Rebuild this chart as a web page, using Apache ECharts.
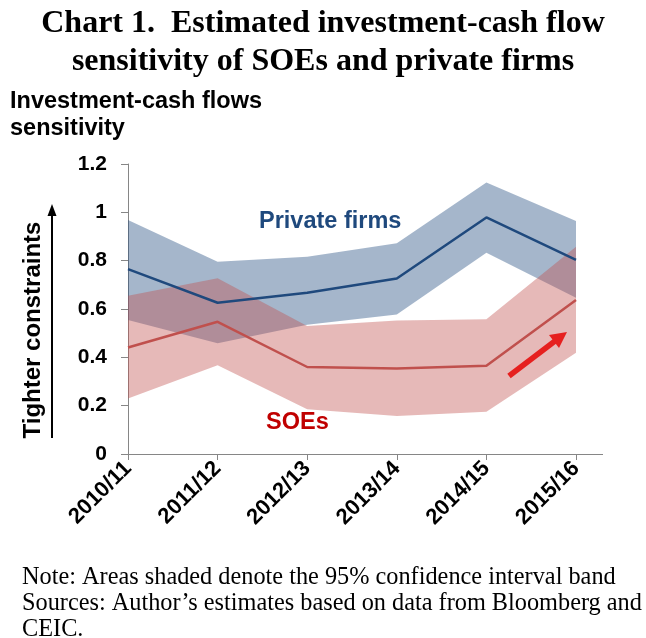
<!DOCTYPE html>
<html>
<head>
<meta charset="utf-8">
<script src="https://cdn.jsdelivr.net/npm/echarts@6/dist/echarts.min.js"></script>
<style>html,body{margin:0;padding:0;background:#fff}#c{width:646px;height:638px}</style>
</head>
<body>
<div id="c"></div>
<script>
var categories = ['2010/11','2011/12','2012/13','2013/14','2014/15','2015/16'];
var privateFirms = [0.765, 0.626, 0.667, 0.726, 0.979, 0.803];
var privateUpper = [0.968, 0.796, 0.816, 0.872, 1.123, 0.964];
var privateLower = [0.554, 0.458, 0.535, 0.577, 0.833, 0.647];
var soes = [0.441, 0.547, 0.360, 0.354, 0.365, 0.637];
var soeUpper = [0.655, 0.727, 0.530, 0.552, 0.558, 0.858];
var soeLower = [0.230, 0.367, 0.185, 0.157, 0.175, 0.419];
var yTicks = [0, 0.2, 0.4, 0.6, 0.8, 1, 1.2];

function diff(a, b){ return a.map(function(v,i){ return +(v - b[i]).toFixed(3); }); }

var chart = echarts.init(document.getElementById('c'), null, {renderer:'canvas'});
var sans = 'Liberation Sans, Arial, sans-serif';
var serif = 'Liberation Serif, Times New Roman, serif';
var axisGrey = '#868686';

var option = {
  backgroundColor: '#fff',
  animation: false,
  title: [
    {text: 'Chart 1.  Estimated investment-cash flow\nsensitivity of SOEs and private firms', left: 'center', top: 5, padding: 0,
     textStyle: {fontFamily: serif, fontWeight: 'bold', fontSize: 32, lineHeight: 38, color: '#000'}},
    {text: 'Investment-cash flows\nsensitivity', left: 10, top: 88, padding: 0,
     textStyle: {fontFamily: sans, fontWeight: 'bold', fontSize: 23.5, lineHeight: 27, color: '#000'}},
    {text: 'Note: Areas shaded denote the 95% confidence interval band\nSources: Author\u2019s estimates based on data from Bloomberg and\nCEIC.', left: 22, top: 565, padding: 0,
     textStyle: {fontFamily: serif, fontWeight: 'normal', fontSize: 24.3, lineHeight: 26, color: '#000'}}
  ],
  grid: {left: 128, right: 70, top: 164, bottom: 184},
  xAxis: {
    type: 'category', data: categories, boundaryGap: false,
    axisLine: {lineStyle: {color: axisGrey, width: 1}},
    axisTick: {show: true, length: 6, alignWithLabel: true, lineStyle: {color: axisGrey}},
    axisLabel: {rotate: 45, margin: 11, fontFamily: sans, fontWeight: 'bold', fontSize: 22, color: '#000'},
    splitLine: {show: false}
  },
  yAxis: {
    type: 'value', min: yTicks[0], max: yTicks[yTicks.length-1], interval: 0.2,
    axisLine: {show: true, lineStyle: {color: axisGrey, width: 1}},
    axisTick: {show: true, length: 7, lineStyle: {color: axisGrey}},
    axisLabel: {margin: 21, fontFamily: sans, fontWeight: 'bold', fontSize: 21, color: '#000',
      formatter: function(v){ return String(+v.toFixed(1)); }},
    splitLine: {show: false}
  },
  series: [
    {name: 'privLower', type: 'line', stack: 'priv', data: privateLower, symbol: 'none',
     lineStyle: {opacity: 0}, silent: true},
    {name: 'privBand', type: 'line', stack: 'priv', data: diff(privateUpper, privateLower), symbol: 'none',
     lineStyle: {opacity: 0}, areaStyle: {color: '#1F497D', opacity: 0.4}, silent: true},
    {name: 'soeLower', type: 'line', stack: 'soe', data: soeLower, symbol: 'none',
     lineStyle: {opacity: 0}, silent: true},
    {name: 'soeBand', type: 'line', stack: 'soe', data: diff(soeUpper, soeLower), symbol: 'none',
     lineStyle: {opacity: 0}, areaStyle: {color: '#C0504D', opacity: 0.4}, silent: true},
    {name: 'Private firms', type: 'line', data: privateFirms, symbol: 'none',
     lineStyle: {color: '#1F497D', width: 2.5}, z: 5},
    {name: 'SOEs', type: 'line', data: soes, symbol: 'none',
     lineStyle: {color: '#C0504D', width: 2.5}, z: 5}
  ],
  graphic: [
    {type: 'line', shape: {x1: 576, y1: 454.5, x2: 603, y2: 454.5}, style: {stroke: axisGrey, lineWidth: 1}},
    {type: 'text', left: 259, top: 210, style: {text: 'Private firms', fill: '#1F497D', font: 'bold 23.5px ' + sans}},
    {type: 'text', left: 266, top: 411, style: {text: 'SOEs', fill: '#C00000', font: 'bold 23.5px ' + sans}},
    {type: 'text', x: 33, y: 330, rotation: Math.PI/2,
     style: {text: 'Tighter constraints', fill: '#000', font: 'bold 24px ' + sans, align: 'center', verticalAlign: 'middle'}},
    {type: 'line', shape: {x1: 52, y1: 438, x2: 52, y2: 214}, style: {stroke: '#000', lineWidth: 2}},
    {type: 'polygon', shape: {points: [[52, 204], [47.5, 216], [56.5, 216]]}, style: {fill: '#000'}},
    {type: 'line', shape: {x1: 509, y1: 376, x2: 555, y2: 341}, style: {stroke: '#FF0000', lineWidth: 5.5}},
    {type: 'polygon', shape: {points: [[567, 332], [549, 335], [559, 348]]}, style: {fill: '#FF0000'}}
  ]
};
chart.setOption(option);
</script>
</body>
</html>
